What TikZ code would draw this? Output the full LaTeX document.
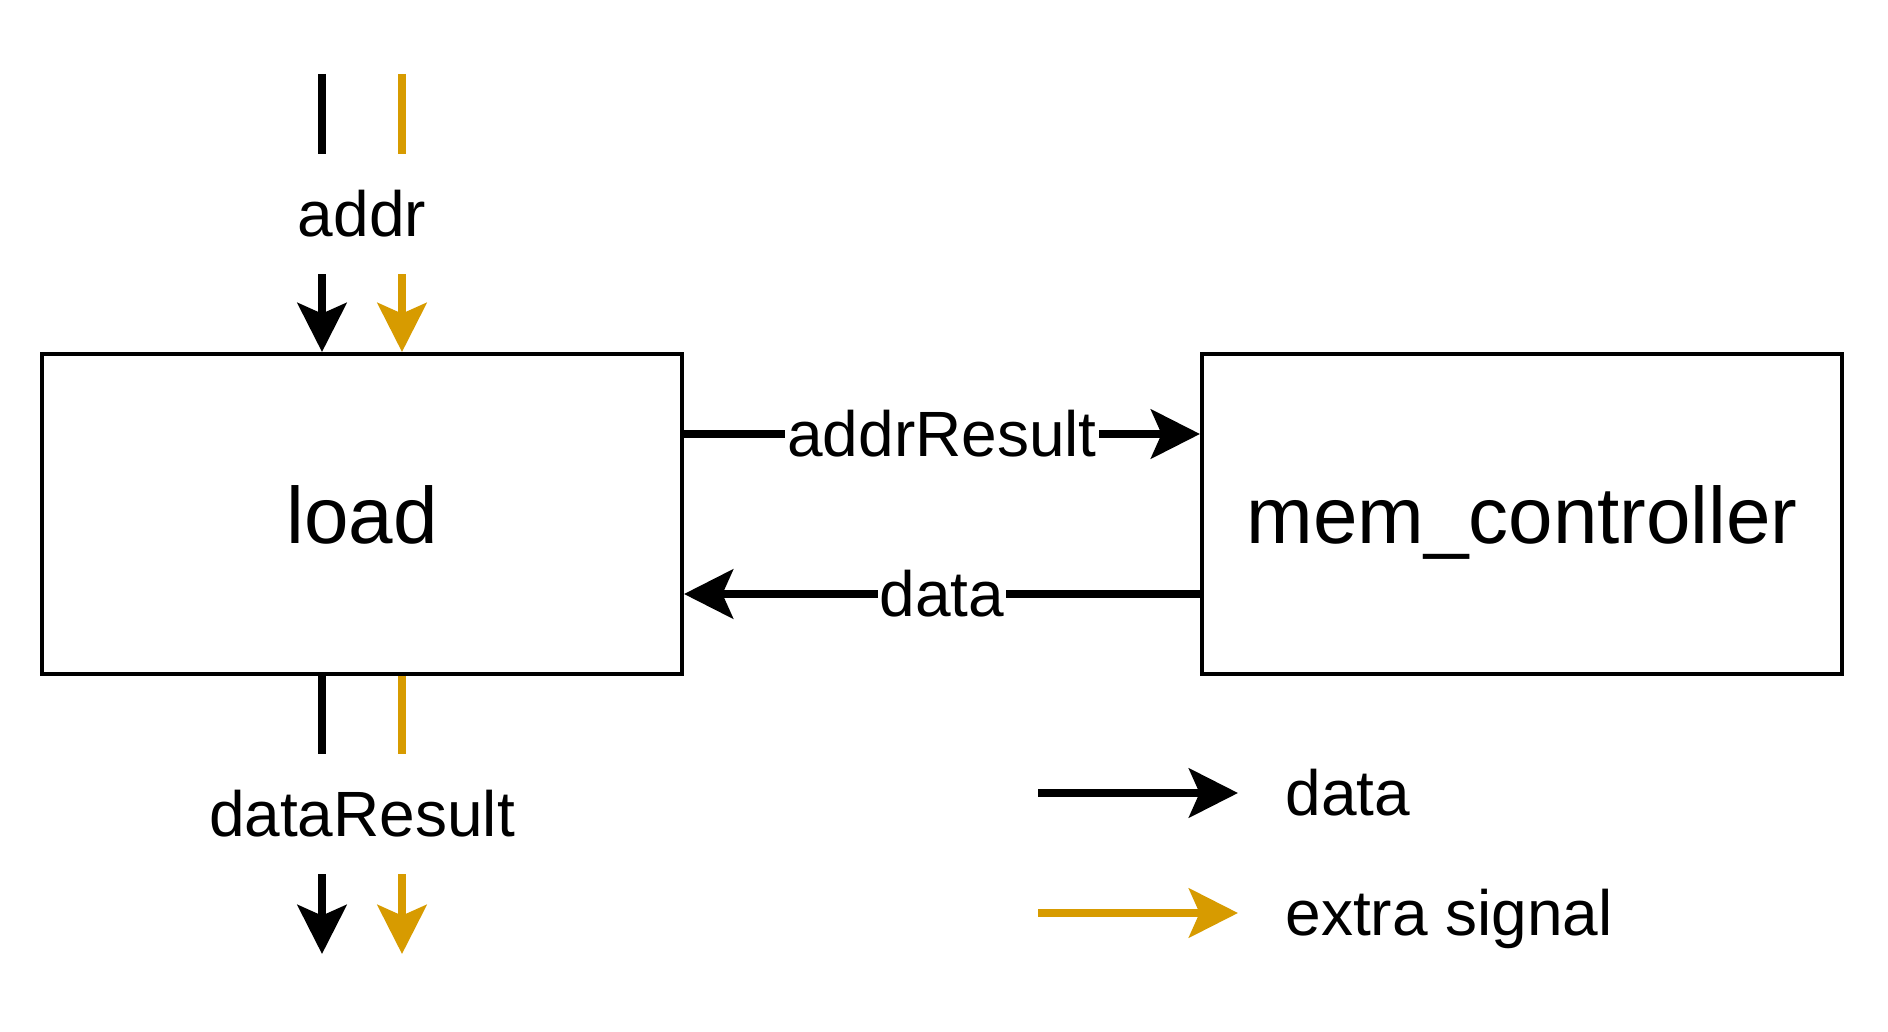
\documentclass[tikz,border=0pt]{standalone}
\usepackage{fontspec}
\setmainfont{Liberation Sans}
\usetikzlibrary{arrows.meta}
\definecolor{sigorange}{HTML}{D79B00}
\begin{document}
\begin{tikzpicture}[x=0.5pt,y=-0.5pt,
  box/.style={draw,line width=2pt,minimum width=320pt,minimum height=160pt,inner sep=0pt,
    font=\fontsize{40pt}{48pt}\selectfont,text height=29pt,text depth=0pt},
  lbl/.style={fill=white,inner xsep=1pt,inner ysep=2pt,
    font=\fontsize{32pt}{38pt}\selectfont,text height=22pt,text depth=0pt},
  vlbl/.style={inner sep=0pt,font=\fontsize{32pt}{38pt}\selectfont,text height=22pt,text depth=0pt},
  legtext/.style={anchor=base west,inner sep=0pt,font=\fontsize{32pt}{38pt}\selectfont},
  sig/.style={line width=4pt},
  arr/.style={sig,-{Stealth[length=24.5pt,width=24.5pt,inset=5.3pt]}},
  extra/.style={draw=sigorange,color=sigorange}
]
\useasboundingbox (0,0) rectangle (1888,1032);

% blocks
\node[box] (load) at (362,514) {load};
\node[box] (mem) at (1522,514) {mem\_controller};

% input addr
\node[vlbl] (addr) at (362,214) {addr};
\coordinate (ak0) at (322,74);
\coordinate (ak1) at (322,154);
\coordinate (ak2) at (322,274);
\coordinate (ao0) at (402,74);
\coordinate (ao1) at (402,154);
\coordinate (ao2) at (402,274);
\draw[sig] (ak0) -- (ak1);
\draw[arr] (ak2) -- (ak2 |- load.north);
\draw[sig,extra] (ao0) -- (ao1);
\draw[arr,extra] (ao2) -- (ao2 |- load.north);

% output dataResult
\node[vlbl] (dres) at (362,814) {dataResult};
\coordinate (dk1) at (322,754);
\coordinate (dk2) at (322,874);
\coordinate (dk3) at (322,954);
\coordinate (do1) at (402,754);
\coordinate (do2) at (402,874);
\coordinate (do3) at (402,954);
\draw[sig] (load.south -| dk1) -- (dk1);
\draw[arr] (dk2) -- (dk3);
\draw[sig,extra] (load.south -| do1) -- (do1);
\draw[arr,extra] (do2) -- (do3);

% load <-> mem_controller
\coordinate (c1) at (942,434);
\draw[arr] (load.east |- c1) -- (mem.west |- c1);
\node[lbl] (arl) at (c1) {addrResult};
\coordinate (c2) at (942,594);
\draw[arr] (mem.west |- c2) -- (load.east |- c2);
\node[lbl] (dl) at (c2) {data};

% legend
\coordinate (lg1a) at (1038,793);
\coordinate (lg1b) at (1238,793);
\draw[arr] (lg1a) -- (lg1b);
\node[legtext] (lgt1) at (1285,815) {data};
\coordinate (lg2a) at (1038,913);
\coordinate (lg2b) at (1238,913);
\draw[arr,extra] (lg2a) -- (lg2b);
\node[legtext] (lgt2) at (1285,935) {extra signal};
\end{tikzpicture}
\end{document}
